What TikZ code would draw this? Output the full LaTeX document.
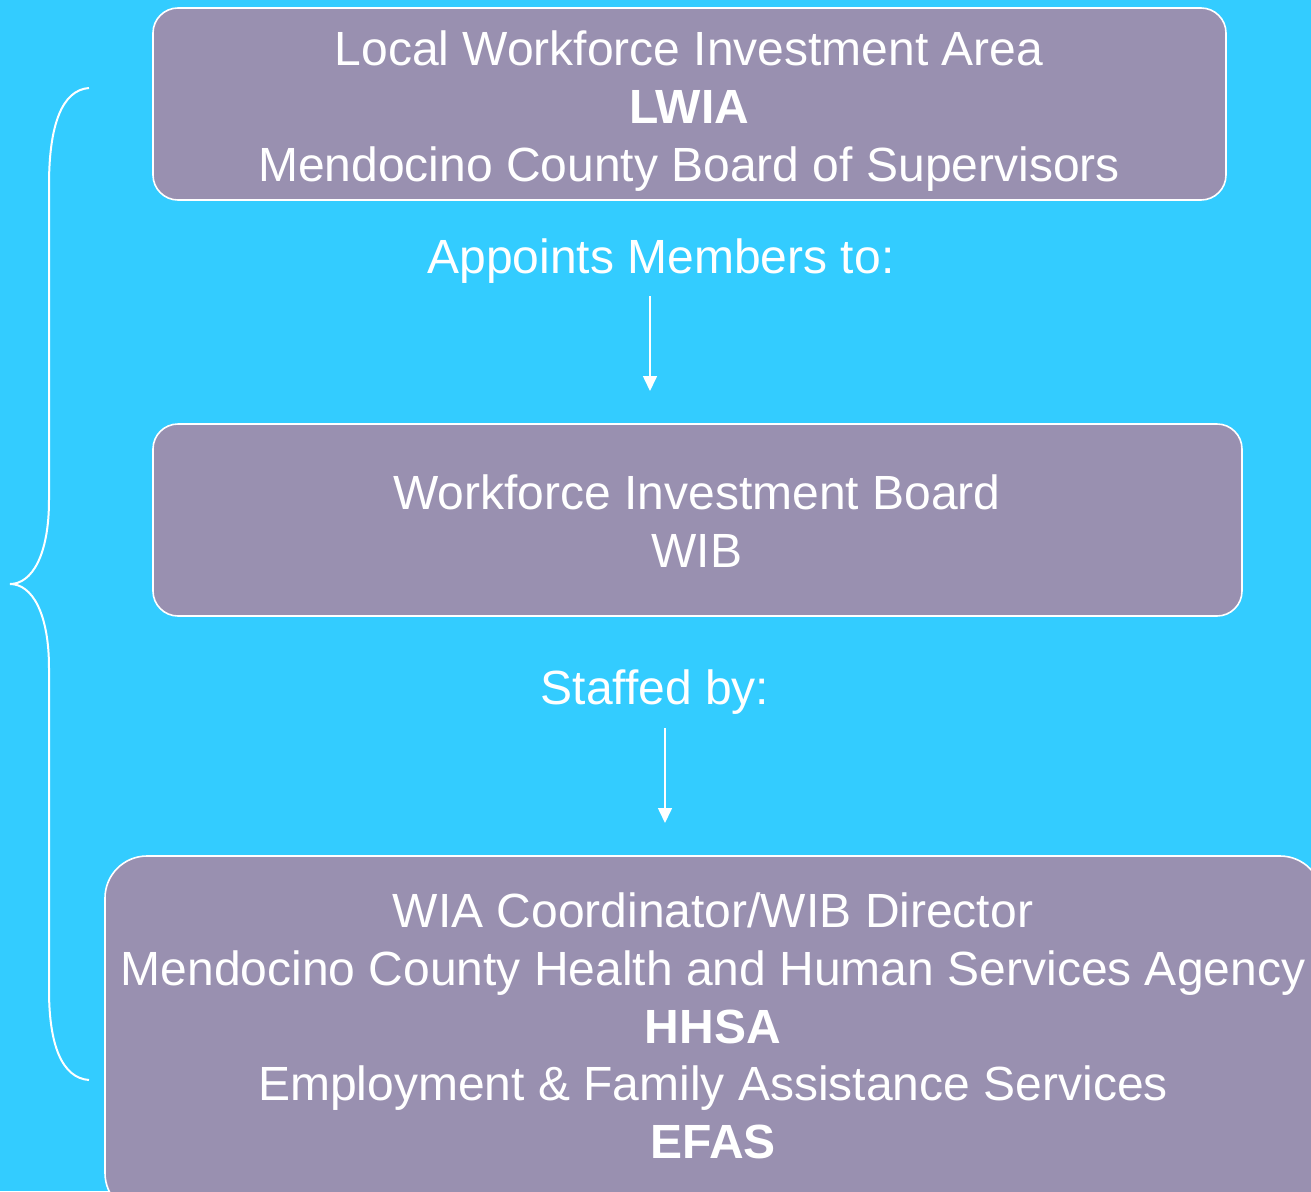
\documentclass[tikz,border=0pt]{standalone}
\usepackage{fontspec}
\setmainfont{Liberation Sans}
\usetikzlibrary{arrows.meta}
\definecolor{bg}{HTML}{33CCFF}
\definecolor{boxfill}{HTML}{9990B0}
\begin{document}
\begin{tikzpicture}[x=1pt,y=-1pt,
  orgbox/.style={draw=white, line width=1.6pt, fill=boxfill},
  txt/.style={text=white, font=\fontsize{48}{57.7}\selectfont, align=center, inner sep=0pt},
  conn/.style={draw=white, line width=1.6pt, -{Triangle[width=14pt,length=15pt]}}]
\useasboundingbox (0,0) rectangle (1311,1191);
\fill[bg] (0,0) rectangle (1311,1191);
\begin{scope}
\clip (0,0) rectangle (1311,1191);
% boxes
\path[orgbox, rounded corners=25pt] (153,8) rectangle (1226,200);
\path[orgbox, rounded corners=25pt] (153,424) rectangle (1242,616);
\path[orgbox, rounded corners=42pt] (105,856) rectangle (1322,1215);
\end{scope}
\node[txt] (lwia) at (689,111) {Local Workforce Investment Area\\\textbf{LWIA}\\Mendocino County Board of Supervisors};
\node[txt] (appoints) at (661,261) {Appoints Members to:};
\node[txt] (wib) at (697,521) {Workforce Investment Board\\WIB};
\node[txt] (staffed) at (655,692) {Staffed by:};
\node[txt] (hhsa) at (713,1026) {WIA Coordinator/WIB Director\\Mendocino County Health and Human Services Agency\\\textbf{HHSA}\\Employment \& Family Assistance Services\\\textbf{EFAS}};
\coordinate (a1s) at (650,296);
\coordinate (a1e) at (650,391);
\coordinate (a2s) at (665,728);
\coordinate (a2e) at (665,823);
\draw[conn] (a1s) -- (a1e);
\draw[conn] (a2s) -- (a2e);
% brace
\draw[white, line width=2pt]
  (89,88) .. controls (62,90) and (49,125) .. (49,185)
  -- (49,500) .. controls (49,555) and (32,584) .. (10,584)
  .. controls (32,584) and (49,613) .. (49,668)
  -- (49,990) .. controls (49,1045) and (62,1078) .. (89,1080);
\end{tikzpicture}
\end{document}
